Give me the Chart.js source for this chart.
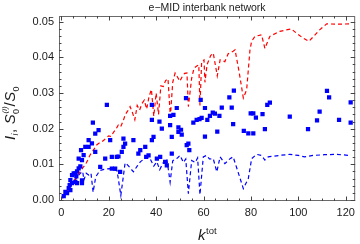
<!DOCTYPE html>
<html><head><meta charset="utf-8">
<script src="https://cdn.jsdelivr.net/npm/chart.js@4/dist/chart.umd.min.js"></script>
<style>html,body{margin:0;padding:0;background:#fff}</style>
</head><body>
<canvas id="c" width="360" height="244" style="width:360px;height:244px;display:block"></canvas>
<script>
const titleText = 'e\u2212MID interbank network';
const xTicks = [0, 20, 40, 60, 80, 100, 120];
const yTicks = [0, 0.01, 0.02, 0.03, 0.04, 0.05];

// red dashed line: S0^(i)/S0
const redK = [0.5,1,2,3,4,5,6,7,8,9,10,11,12,13,14,15,16,17,18,19,20,21,22,23,24,25,26,27,28,29,30,31,32,33,34,35,36,37,38,39,40,41,42,43,44,45,46,47,48,49,50,51,52,53,53.6,55,56,57,58,58.5,59.2,60.2,60.6,61.5,63,64.1,65.8,67,69,70.4,72.5,73.3,75,76.8,78.2,79.6,80.3,81.7,84.5,85.9,88,92.2,97,99.2,102,104.5,109,112,116,122.5];
const redS = [0.0005,0.001,0.002,0.003,0.004,0.005,0.006,0.0072,0.008,0.009,0.0098,0.011,0.0125,0.0135,0.0145,0.0155,0.016,0.0163,0.0168,0.0175,0.018,0.0178,0.019,0.0198,0.021,0.0205,0.022,0.024,0.025,0.0262,0.0245,0.0225,0.0265,0.0252,0.027,0.028,0.0255,0.029,0.031,0.0235,0.03,0.024,0.032,0.0318,0.0335,0.034,0.0234,0.033,0.0356,0.0345,0.0333,0.0346,0.0355,0.0356,0.0262,0.0342,0.037,0.0375,0.0379,0.0265,0.0388,0.0393,0.033,0.038,0.0405,0.0412,0.0348,0.0393,0.0388,0.041,0.0417,0.0421,0.036,0.0286,0.0309,0.0421,0.0445,0.0459,0.0463,0.0425,0.0459,0.0473,0.048,0.0468,0.0454,0.0445,0.0477,0.0494,0.0493,0.0494];

// blue dashed line
const blueK = [0.5,1,2,3,4,5,6,7,8,9,9.5,10.5,11.5,12.5,13.4,14.5,15.5,16.4,18,20.6,22,23.5,25.1,26.9,28,30.4,32,33.3,36.1,37.5,39,40.3,41.5,43,44.5,45.9,47,49,50.1,51.5,52.5,53.6,55,56.5,57.5,58.5,59.9,61.3,62.5,64.1,65.6,67,69,71.2,72.5,74.5,76.8,78.9,80.3,82.4,84.5,85.9,87.3,92,96.4,100,102.7,106.2,111,116,121.7];
const blueI = [0.0005,0.001,0.002,0.003,0.0042,0.005,0.0058,0.0068,0.0075,0.008,0.0056,0.0075,0.007,0.0075,0.0022,0.0065,0.0075,0.0083,0.0086,0.0088,0.0085,0.0082,0.0013,0.0104,0.0098,0.0079,0.0095,0.0107,0.0121,0.0115,0.0095,0.0107,0.0085,0.0105,0.0116,0.005,0.011,0.0118,0.0125,0.0105,0.0115,0.0018,0.0111,0.0105,0.0118,0.0015,0.0121,0.0125,0.0115,0.0116,0.0079,0.0121,0.0102,0.0116,0.0121,0.008,0.0032,0.006,0.0116,0.0128,0.0125,0.0112,0.0121,0.0125,0.0128,0.0125,0.0121,0.0125,0.0127,0.0128,0.0125];

// blue squares: I_i
const ptK = [1,1.7,2.4,3.1,3.8,3.5,4.5,3.8,4.5,5.2,5.9,6.3,6.6,7.3,8,5.9,6.6,8.7,8.7,7.3,8.7,9.4,8.3,10.1,11.5,11.5,12.9,13.3,14.3,15.7,14.3,16.4,18.5,19.2,20.6,21.3,23.4,24.1,21.3,22.7,24.8,25.5,26.2,26.2,26.9,30.4,32.5,33.3,35.4,35.8,36.8,38.2,38.9,38.2,38.2,40.3,41.7,41.4,42.4,43.8,44.5,45.9,46.6,46.6,45.9,47.3,48.7,49.4,49.4,50.5,50.8,52.6,52.9,53.6,54,55.7,57.1,58.3,58.8,59.2,60.6,60.6,61.6,62.7,63.9,64.8,65.8,66.7,67.7,70.9,71.9,72.8,72.5,77,78.9,79.9,81,81,82.1,84.9,85.9,86.9,88,96.4,104.1,107.9,109,112.1,113,117.2,122.1,122.1];
const ptI = [0.0011,0.0023,0.0019,0.0033,0.0028,0.0042,0.0047,0.0056,0.007,0.0075,0.0075,0.0066,0.008,0.0089,0.0094,0.0051,0.0047,0.0055,0.0047,0.0116,0.0112,0.0126,0.014,0.0149,0.0149,0.0168,0.0159,0.0217,0.0186,0.0196,0.0135,0.0093,0.0116,0.0267,0.0168,0.0121,0.0121,0.0122,0.0088,0.0088,0.0079,0.0135,0.0172,0.0149,0.0158,0.0168,0.013,0.014,0.0149,0.0121,0.0125,0.0168,0.0177,0.0267,0.0225,0.0116,0.0121,0.022,0.02,0.0107,0.0097,0.021,0.0177,0.013,0.0236,0.0239,0.0258,0.0191,0.0204,0.0197,0.0183,0.0286,0.0154,0.0158,0.014,0.0217,0.0225,0.0227,0.0281,0.023,0.0258,0.0178,0.0225,0.0236,0.0245,0.0242,0.0192,0.0236,0.0259,0.0288,0.0259,0.0307,0.0213,0.0194,0.0187,0.0243,0.0243,0.0187,0.0231,0.0241,0.0199,0.0267,0.0273,0.0234,0.0199,0.0223,0.0248,0.0306,0.0288,0.0225,0.0217,0.0274];

const toXY = (ks, vs) => ks.map((k, i) => ({x: k, y: vs[i]}));

const FONT = "'Liberation Sans', Arial, sans-serif";
const INK = '#1a1a1a';
const FRAME = '#6a6a6a';

const decorPlugin = {
  id: 'decor',
  afterDraw(chart) {
    const {ctx, chartArea: a, scales: {x, y}} = chart;
    ctx.save();
    // frame
    ctx.strokeStyle = FRAME;
    ctx.lineWidth = 1;
    ctx.strokeRect(a.left + 0.5, a.top + 0.5, a.right - a.left - 1, a.bottom - a.top - 1);
    // ticks
    ctx.strokeStyle = '#444';
    ctx.beginPath();
    for (let v = 0; v <= 120.001; v += 5) {
      const px = Math.round(x.getPixelForValue(v)) + 0.5;
      const len = (Math.round(v) % 20 === 0) ? 4.5 : 2.5;
      ctx.moveTo(px, a.bottom); ctx.lineTo(px, a.bottom - len);
      ctx.moveTo(px, a.top); ctx.lineTo(px, a.top + len);
    }
    for (let i = 0; i <= 25; i++) {
      const v = i * 0.002;
      const py = Math.round(y.getPixelForValue(v)) + 0.5;
      const len = (i % 5 === 0) ? 4.5 : 2.5;
      ctx.moveTo(a.left, py); ctx.lineTo(a.left + len, py);
      ctx.moveTo(a.right, py); ctx.lineTo(a.right - len, py);
    }
    ctx.stroke();

    // title
    ctx.fillStyle = INK;
    ctx.font = `10.5px ${FONT}`;
    ctx.textAlign = 'center';
    ctx.textBaseline = 'alphabetic';
    ctx.fillText(titleText, (a.left + a.right) / 2, 10.5);

    // x axis title: k^tot
    ctx.textAlign = 'left';
    ctx.font = `italic 15px ${FONT}`;
    ctx.fillText('k', 198, 240);
    const kw = ctx.measureText('k').width;
    ctx.font = `9.5px ${FONT}`;
    ctx.fillText('tot', 198 + kw + 0.5, 233.5);

    // y axis title: I_i, S_0^(i)/S_0 (rotated)
    ctx.translate(15, 113);
    ctx.rotate(-Math.PI / 2);
    const SUB = `9px ${FONT}`;
    const SUBI = `italic 9px ${FONT}`;
    const SUP = `italic 8px ${FONT}`;
    const parts = [
      {t: 'I', f: `italic 15px ${FONT}`, dy: 0},
      {t: 'i', f: SUBI, dy: 3},
      {t: ', ', f: `15px ${FONT}`, dy: 0},
      {t: 'S', f: `italic 15px ${FONT}`, dy: 0},
      {t: '0', f: SUB, dy: 3.5, sup: '(i)'},
      {t: '/', f: `15px ${FONT}`, dy: 0},
      {t: 'S', f: `italic 15px ${FONT}`, dy: 0},
      {t: '0', f: SUB, dy: 3.5}
    ];
    let total = 0;
    for (const p of parts) {
      ctx.font = p.f;
      let w = ctx.measureText(p.t).width;
      if (p.sup) { ctx.font = SUP; w = Math.max(w, ctx.measureText(p.sup).width); }
      p.w = w; total += w + 0.4;
    }
    let cx = -total / 2;
    for (const p of parts) {
      ctx.font = p.f;
      ctx.fillText(p.t, cx, p.dy);
      if (p.sup) { ctx.font = SUP; ctx.fillText(p.sup, cx + 0.5, -8); }
      cx += p.w + 0.4;
    }
    ctx.restore();
  }
};

new Chart(document.getElementById('c'), {
  type: 'scatter',
  data: {
    datasets: [
      {
        label: 'I_i', data: toXY(ptK, ptI), order: 0,
        pointStyle: 'rect', pointRadius: 3, pointHoverRadius: 3,
        backgroundColor: '#0000ff', borderColor: '#0000ff', borderWidth: 0, showLine: false
      },
      {
        label: 'S0i/S0', data: toXY(redK, redS), order: 1, showLine: true,
        borderColor: '#ff0000', borderWidth: 1.2, borderDash: [4, 3], pointRadius: 0, tension: 0, fill: false
      },
      {
        label: 'I line', data: toXY(blueK, blueI), order: 2, showLine: true,
        borderColor: '#0000ff', borderWidth: 1.2, borderDash: [4, 3], pointRadius: 0, tension: 0, fill: false
      }
    ]
  },
  options: {
    responsive: false, animation: false, devicePixelRatio: 1,
    layout: {padding: {left: 0, right: 4, top: 16, bottom: 0}},
    plugins: {legend: {display: false}, tooltip: {enabled: false}, title: {display: false}},
    scales: {
      x: {
        type: 'linear', min: -1, max: 124,
        afterBuildTicks: s => { s.ticks = xTicks.map(v => ({value: v})); },
        afterFit: s => { s.height = 43; },
        grid: {display: false, drawTicks: false}, border: {display: false},
        ticks: {font: {family: FONT, size: 11}, color: INK, padding: 5, maxRotation: 0, autoSkip: false,
                callback: v => String(v)}
      },
      y: {
        type: 'linear', min: -0.00028, max: 0.0516,
        afterBuildTicks: s => { s.ticks = yTicks.map(v => ({value: v})); },
        afterFit: s => { s.width = 59; },
        grid: {display: false, drawTicks: false}, border: {display: false},
        ticks: {font: {family: FONT, size: 11}, color: INK, padding: 5, autoSkip: false,
                callback: v => Number(v).toFixed(2)}
      }
    }
  },
  plugins: [decorPlugin]
});
</script>
</body></html>
